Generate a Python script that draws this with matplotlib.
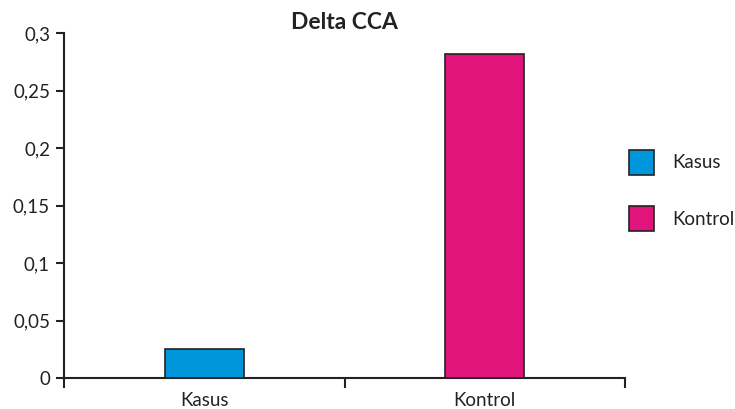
import matplotlib
matplotlib.use("Agg")
import matplotlib.pyplot as plt
from matplotlib.ticker import FuncFormatter
from matplotlib.patches import Patch

# data
categories = ["Kasus", "Kontrol"]
values = [0.0252, 0.2817]
colors = ["#0096DC", "#E0147A"]
yticks = [0, 0.05, 0.1, 0.15, 0.2, 0.25, 0.3]

plt.rcParams["font.family"] = ["Lato", "DejaVu Sans"]

fig = plt.figure(figsize=(7.35, 4.09), dpi=100)
ax = fig.add_axes([64 / 735, 1 - 378 / 409, (625 - 64) / 735, (378 - 33) / 409])

x = list(range(len(categories)))
ax.bar(x, values, width=0.28, color=colors, edgecolor="#222222", linewidth=1.2, zorder=3)

ax.set_xlim(-0.5, len(categories) - 0.5)
ax.set_ylim(0, 0.3)
ax.set_yticks(yticks)
ax.yaxis.set_major_formatter(FuncFormatter(lambda v, p: ("%g" % v).replace(".", ",")))

ax.set_xticks(x)
ax.set_xticklabels(categories)
ax.tick_params(axis="x", which="major", length=0, pad=10)
ax.set_xticks([i - 0.5 for i in range(len(categories) + 1)], minor=True)
ax.tick_params(axis="x", which="minor", length=7, width=1.5, color="#222222", direction="out")
ax.tick_params(axis="y", length=6, width=1.5, color="#222222", direction="out", pad=4)
ax.tick_params(labelsize=13.5, labelcolor="#222222")

for s in ["top", "right"]:
    ax.spines[s].set_visible(False)
for s in ["left", "bottom"]:
    ax.spines[s].set_linewidth(1.5)
    ax.spines[s].set_color("#222222")

ax.set_title("Delta CCA", fontsize=16.5, fontweight="bold", color="#222222", pad=2.5)

handles = [Patch(facecolor=c, edgecolor="#222222", linewidth=1.2) for c in colors]
fig.legend(handles, categories, loc="upper left", bbox_to_anchor=(612 / 735, 1 - 133 / 409),
           frameon=False, fontsize=13.5, handlelength=1.33, handleheight=1.674,
           labelspacing=1.66, handletextpad=0.96, labelcolor="#222222")

fig.savefig("out.png", dpi=100)
